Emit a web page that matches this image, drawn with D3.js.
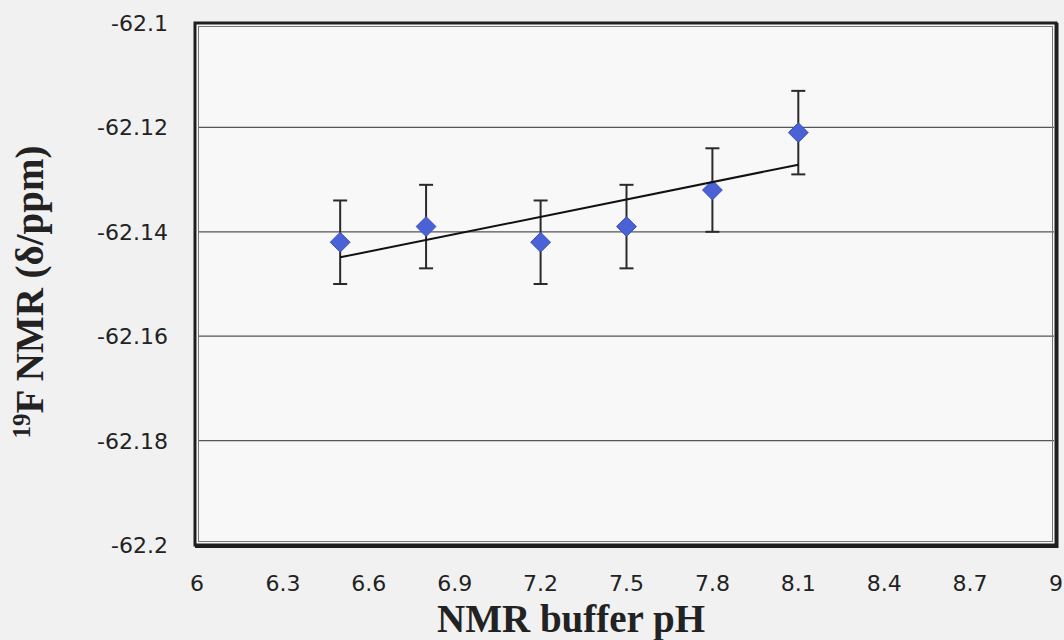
<!DOCTYPE html>
<html>
<head>
<meta charset="utf-8">
<script src="https://cdn.jsdelivr.net/npm/d3@7"></script>
<style>
  body { margin: 0; background: #f1f1f1; }
  svg { display: block; }
</style>
</head>
<body>
<div id="chart"></div>
<script>
// values
const phValues = [6.5, 6.8, 7.2, 7.5, 7.8, 8.1];
const shiftValues = [-62.142, -62.139, -62.142, -62.139, -62.132, -62.121];
const errValues = [0.008, 0.008, 0.008, 0.008, 0.008, 0.008];
const xTicks = [6, 6.3, 6.6, 6.9, 7.2, 7.5, 7.8, 8.1, 8.4, 8.7, 9];
const yTicks = [-62.1, -62.12, -62.14, -62.16, -62.18, -62.2];
const gridValues = [-62.12, -62.14, -62.16, -62.18];

function init() {
    let width = 1064, height = 640;
    let left = 195, right = 1056, top = 23, bottom = 545;

    let svg = d3.select("#chart").append("svg")
        .attr("width", width)
        .attr("height", height);

    let x = d3.scaleLinear().domain([6, 9]).range([left + 2, right]);
    let y = d3.scaleLinear().domain([-62.2, -62.1]).range([bottom, top]);

    // plot background
    svg.append("rect")
        .attr("x", left).attr("y", top)
        .attr("width", right - left).attr("height", bottom - top)
        .attr("fill", "#f8f8f8");

    // gridlines
    svg.selectAll(".grid")
        .data(gridValues)
        .join("line")
        .attr("class", "grid")
        .attr("x1", left + 3).attr("x2", right - 2)
        .attr("y1", d => y(d)).attr("y2", d => y(d))
        .attr("stroke", "#555")
        .attr("stroke-width", 1.2);

    // frame: thick outer line plus thin inner line
    svg.append("rect")
        .attr("x", left).attr("y", top)
        .attr("width", right - left).attr("height", bottom - top)
        .attr("fill", "none")
        .attr("stroke", "#1e1e1e")
        .attr("stroke-width", 3);
    svg.append("rect")
        .attr("x", left + 3.5).attr("y", top + 3.5)
        .attr("width", right - left - 7).attr("height", bottom - top - 7)
        .attr("fill", "none")
        .attr("stroke", "#777")
        .attr("stroke-width", 1);
    svg.append("path")
        .attr("d", `M${right + 1.5},${top} V${bottom + 2} H${left}`)
        .attr("fill", "none")
        .attr("stroke", "#1e1e1e")
        .attr("stroke-width", 2);

    // y tick labels
    svg.selectAll(".ylab")
        .data(yTicks)
        .join("text")
        .attr("class", "ylab")
        .attr("x", 168)
        .attr("y", d => y(d) + 8)
        .attr("text-anchor", "end")
        .attr("font-family", "DejaVu Sans, sans-serif")
        .attr("font-size", 22)
        .attr("fill", "#222")
        .text(d => String(d));

    // x tick labels
    svg.selectAll(".xlab")
        .data(xTicks)
        .join("text")
        .attr("class", "xlab")
        .attr("x", d => x(d))
        .attr("y", 591)
        .attr("text-anchor", "middle")
        .attr("font-family", "DejaVu Sans, sans-serif")
        .attr("font-size", 22)
        .attr("fill", "#222")
        .text(d => String(d));

    // axis titles
    svg.append("text")
        .attr("x", 571)
        .attr("y", 632)
        .attr("text-anchor", "middle")
        .attr("font-family", "Liberation Serif, Times New Roman, serif")
        .attr("font-weight", "bold")
        .attr("font-size", 39)
        .attr("fill", "#222")
        .text("NMR buffer pH");

    let yTitle = svg.append("text")
        .attr("transform", "translate(43,292) rotate(-90)")
        .attr("text-anchor", "middle")
        .attr("font-family", "Liberation Serif, Times New Roman, serif")
        .attr("font-weight", "bold")
        .attr("font-size", 39)
        .attr("fill", "#222");
    yTitle.append("tspan")
        .attr("font-size", 25)
        .attr("dy", -13)
        .text("19");
    yTitle.append("tspan")
        .attr("dy", 13)
        .text("F NMR (δ/ppm)");

    let data = phValues.map((p, i) => ({ x: p, y: shiftValues[i], e: errValues[i] }));

    // error bars
    let eb = svg.selectAll(".err")
        .data(data)
        .join("g")
        .attr("class", "err")
        .attr("stroke", "#2a2a2a")
        .attr("stroke-width", 2);
    eb.append("line")
        .attr("x1", d => x(d.x)).attr("x2", d => x(d.x))
        .attr("y1", d => y(d.y - d.e)).attr("y2", d => y(d.y + d.e));
    eb.append("line")
        .attr("x1", d => x(d.x) - 7).attr("x2", d => x(d.x) + 7)
        .attr("y1", d => y(d.y + d.e)).attr("y2", d => y(d.y + d.e));
    eb.append("line")
        .attr("x1", d => x(d.x) - 7).attr("x2", d => x(d.x) + 7)
        .attr("y1", d => y(d.y - d.e)).attr("y2", d => y(d.y - d.e));

    // markers
    svg.selectAll(".pt")
        .data(data)
        .join("path")
        .attr("class", "pt")
        .attr("d", d3.symbol().type(d3.symbolDiamond2).size(250))
        .attr("transform", d => `translate(${x(d.x)},${y(d.y)})`)
        .attr("fill", "#4a62d6")
        .attr("stroke", "#3a4fb8")
        .attr("stroke-width", 1);

    // linear trendline (least squares fit of the data)
    let mx = d3.mean(phValues), my = d3.mean(shiftValues);
    let sxy = d3.sum(phValues, (p, i) => (p - mx) * (shiftValues[i] - my));
    let sxx = d3.sum(phValues, p => (p - mx) * (p - mx));
    let slope = sxy / sxx, icpt = my - slope * mx;
    let ext = d3.extent(phValues);
    let line = d3.line().x(d => x(d)).y(d => y(icpt + slope * d));
    svg.append("path")
        .datum(ext)
        .attr("d", line)
        .attr("fill", "none")
        .attr("stroke", "#111")
        .attr("stroke-width", 2);
}
window.onload = init;
</script>
</body>
</html>
